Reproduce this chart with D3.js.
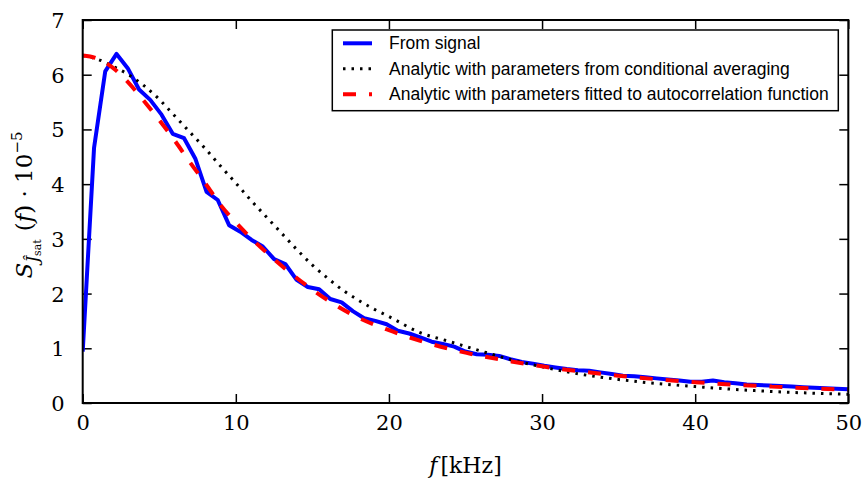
<!DOCTYPE html>
<html>
<head>
<meta charset="utf-8">
<script src="https://cdn.jsdelivr.net/npm/d3@7"></script>
<style>
  body { margin: 0; background: #fff; }
  .serif { font-family: "DejaVu Serif", serif; }
  .tick text { font-family: "DejaVu Serif", serif; font-size: 21px; fill: #000; }
  .tick line { stroke: #000; stroke-width: 1.5; }
  .domain { display: none; }
  .legend text { font-family: "Liberation Sans", Arial, sans-serif; font-size: 17.5px; }
</style>
</head>
<body>
<svg id="chart" width="864" height="479"></svg>
<script>
// spectrum estimated from the signal (frequency in kHz, value in 1e-5)
const signalFreq = [0, 0.74, 1.47, 2.21, 2.94, 3.68, 4.41, 5.15, 5.88, 6.62, 7.35, 8.09, 8.82, 9.56,
  10.29, 11.03, 11.76, 12.50, 13.23, 13.97, 14.70, 15.44, 16.17, 16.91, 17.64, 18.38, 19.11, 19.85,
  20.58, 21.32, 22.05, 22.79, 23.52, 24.26, 24.99, 25.73, 26.46, 27.20, 27.93, 28.67, 29.40, 30.14,
  30.87, 31.61, 32.34, 33.08, 33.81, 34.55, 35.28, 36.02, 36.75, 37.49, 38.22, 38.96, 39.69, 40.43,
  41.16, 41.90, 42.63, 43.37, 44.10, 44.84, 45.57, 46.31, 47.04, 47.78, 48.51, 49.25, 49.98];
const signalVals = [0.94, 4.66, 6.06, 6.38, 6.12, 5.73, 5.54, 5.27, 4.92, 4.84, 4.47, 3.86, 3.71, 3.25,
  3.13, 2.98, 2.86, 2.63, 2.54, 2.25, 2.12, 2.08, 1.90, 1.84, 1.68, 1.55, 1.50, 1.44,
  1.32, 1.27, 1.20, 1.12, 1.08, 1.03, 0.94, 0.89, 0.88, 0.86, 0.80, 0.75, 0.72, 0.68,
  0.65, 0.62, 0.60, 0.59, 0.56, 0.53, 0.50, 0.49, 0.47, 0.45, 0.43, 0.41, 0.39, 0.39,
  0.41, 0.38, 0.36, 0.34, 0.33, 0.32, 0.31, 0.30, 0.29, 0.28, 0.27, 0.26, 0.25];

// analytic, parameters from conditional averaging (dotted)
const condFreq = [0, 1, 2, 3, 4, 5, 6, 7, 8, 9, 10, 11, 12, 13, 14, 15, 16, 17, 18, 19, 20,
  22, 24, 26, 28, 30, 32, 35, 40, 45, 50];
const condVals = [6.35, 6.28, 6.15, 6.00, 5.80, 5.55, 5.25, 4.95, 4.65, 4.33, 4.02, 3.70, 3.40,
  3.10, 2.80, 2.52, 2.28, 2.06, 1.88, 1.72, 1.58, 1.29, 1.12, 0.95, 0.79, 0.66, 0.55, 0.43,
  0.30, 0.21, 0.16];

// analytic, parameters fitted to autocorrelation (dashed)
const fitFreq = [0, 1, 2, 3, 4, 5, 6, 7, 8, 9, 10, 12, 14, 16, 18, 20, 22, 25, 28, 30, 35, 40, 45, 50];
const fitVals = [6.35, 6.29, 6.12, 5.85, 5.52, 5.17, 4.80, 4.40, 4.02, 3.62, 3.30, 2.75, 2.28,
  1.88, 1.56, 1.33, 1.14, 0.92, 0.76, 0.67, 0.50, 0.38, 0.30, 0.24];

const xTicks = [0, 10, 20, 30, 40, 50];
const yTicks = [0, 1, 2, 3, 4, 5, 6, 7];
const legendLabels = [
  "From signal",
  "Analytic with parameters from conditional averaging",
  "Analytic with parameters fitted to autocorrelation function"
];

const margin = {left: 82.7, right: 864 - 848.3, top: 20, bottom: 479 - 403};
const width = 864 - margin.left - margin.right;
const height = 479 - margin.top - margin.bottom;

const svg = d3.select("#chart");
const g = svg.append("g")
  .attr("transform", `translate(${margin.left},${margin.top})`);

const x = d3.scaleLinear().domain([0, 50]).range([0, width]);
const y = d3.scaleLinear().domain([0, 7]).range([height, 0]);

// axes, ticks point inward on all four sides
const xAxis = g.append("g")
  .attr("transform", `translate(0,${height})`)
  .call(d3.axisBottom(x).tickValues(xTicks).tickSize(-9).tickPadding(12).tickFormat(d3.format("d")))
;
xAxis.selectAll("text").attr("dy", "0.71em");
g.append("g")
  .call(d3.axisTop(x).tickValues(xTicks).tickSize(-9).tickFormat(""))
;
const yAxis = g.append("g")
  .call(d3.axisLeft(y).tickValues(yTicks).tickSize(-9).tickPadding(18).tickFormat(d3.format("d")))
;
yAxis.selectAll("text").attr("dy", "0.36em");
g.append("g")
  .attr("transform", `translate(${width},0)`)
  .call(d3.axisRight(y).tickValues(yTicks).tickSize(-9).tickFormat(""))
;

g.append("clipPath").attr("id", "clip")
  .append("rect").attr("width", width).attr("height", height);

const line = d3.line()
  .x(d => x(d[0]))
  .y(d => y(d[1]));

const plot = g.append("g").attr("clip-path", "url(#clip)");

plot.append("path")
  .datum(d3.zip(signalFreq, signalVals))
  .attr("d", line)
  .attr("fill", "none")
  .attr("stroke", "#0000ff")
  .attr("stroke-width", 4)
  .attr("stroke-linejoin", "round")
;
plot.append("path")
  .datum(d3.zip(condFreq, condVals))
  .attr("d", line.curve(d3.curveMonotoneX))
  .attr("fill", "none")
  .attr("stroke", "#000")
  .attr("stroke-width", 3)
  .attr("stroke-dasharray", "2.5,6")
;
plot.append("path")
  .datum(d3.zip(fitFreq, fitVals))
  .attr("d", line.curve(d3.curveMonotoneX))
  .attr("fill", "none")
  .attr("stroke", "#ff0000")
  .attr("stroke-width", 4)
  .attr("stroke-dasharray", "13,13")
;

// frame
g.append("rect")
  .attr("width", width).attr("height", height)
  .attr("fill", "none").attr("stroke", "#000").attr("stroke-width", 2)
;

// legend
const legend = svg.append("g").attr("class", "legend");
legend.append("rect")
  .attr("x", 332.3).attr("y", 30)
  .attr("width", 838.3 - 332.3).attr("height", 110.7 - 30)
  .attr("fill", "#fff").attr("stroke", "#000").attr("stroke-width", 1.5)
;
const styles = [
  {stroke: "#0000ff", w: 4, dash: null},
  {stroke: "#000", w: 3, dash: "2.5,6"},
  {stroke: "#ff0000", w: 4, dash: "13,13"}
];
legendLabels.forEach(function(t, i) {
  const ly = 43.3 + i * 25.5;
  legend.append("line")
    .attr("x1", 343).attr("x2", 372).attr("y1", ly).attr("y2", ly)
    .attr("stroke", styles[i].stroke)
    .attr("stroke-width", styles[i].w)
    .attr("stroke-dasharray", styles[i].dash)
  ;
  legend.append("text")
    .attr("x", 389).attr("y", ly).attr("dy", "0.35em")
    .text(t)
  ;
});

// axis labels
svg.append("text")
  .attr("class", "serif")
  .attr("x", (margin.left + 848.3) / 2).attr("y", 473)
  .attr("text-anchor", "middle")
  .style("font-size", "22px")
  .html('<tspan font-style="italic">f</tspan><tspan dx="3">[kHz]</tspan>')
;
svg.append("text")
  .attr("class", "serif")
  .attr("transform", "translate(32,205) rotate(-90)")
  .attr("text-anchor", "middle")
  .style("font-size", "23px")
  .html('<tspan font-style="italic">S</tspan>'
    + '<tspan font-style="italic" font-size="17" dy="6">Ĵ</tspan>'
    + '<tspan font-size="11" dy="3">sat</tspan>'
    + '<tspan dy="-9" dx="8">(</tspan><tspan font-style="italic">f</tspan><tspan>) · 10</tspan>'
    + '<tspan font-size="15" dy="-10">−5</tspan>')
;
</script>
</body>
</html>
